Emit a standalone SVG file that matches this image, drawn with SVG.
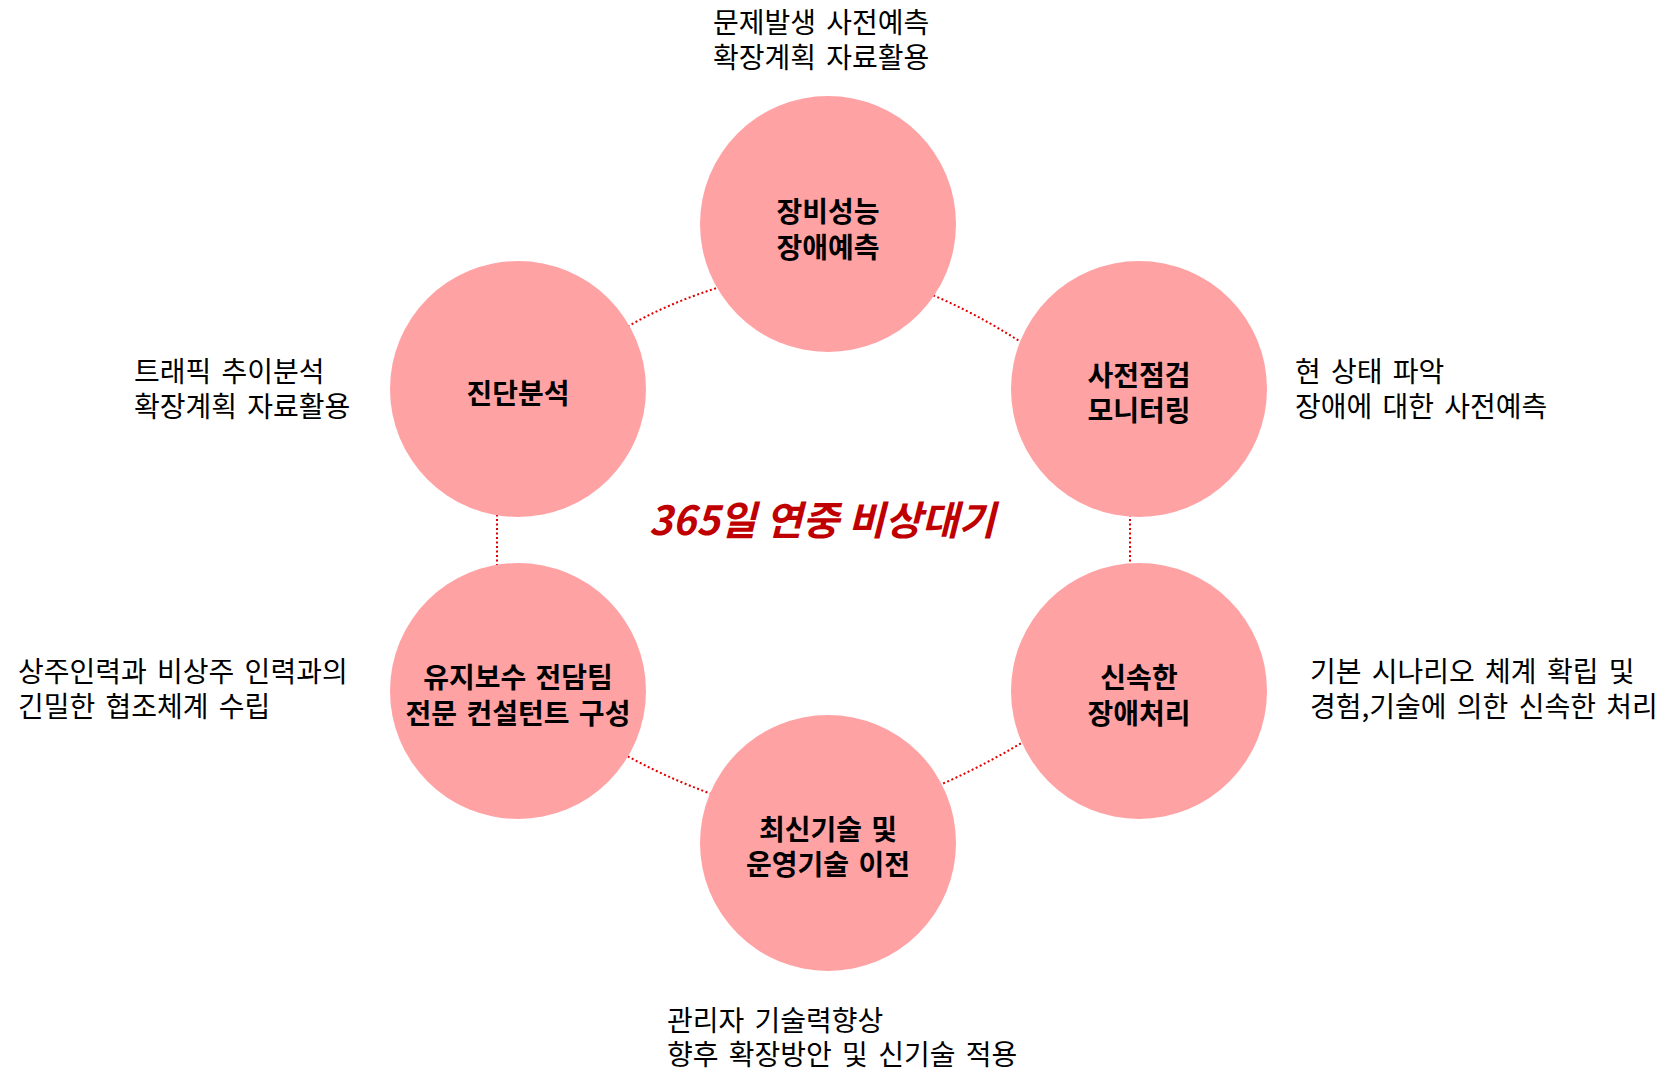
<svg xmlns="http://www.w3.org/2000/svg" width="1668" height="1071" viewBox="0 0 1668 1071">
<style>
  .bg { fill: #ffffff; }
  .node { fill: #FFA2A4; }
  .conn { fill: none; stroke: #E00000; stroke-width: 2; stroke-dasharray: 2 2.5; }
  .lbl { font-family: "Noto Sans CJK KR", "Noto Sans", sans-serif; font-weight: bold; font-size: 28px; fill: #000000; text-anchor: middle; word-spacing: 3px; }
  .desc { font-family: "Noto Sans CJK KR", "Noto Sans", sans-serif; font-size: 28px; fill: #000000; word-spacing: 4px; }
  .title { font-family: "Noto Sans CJK KR", "Noto Sans", sans-serif; font-weight: bold; font-style: italic; font-size: 40px; fill: #C00000; text-anchor: middle; }
</style>
<rect class="bg" x="0" y="0" width="1668" height="1071"/>
<g id="connectors">
  <path class="conn" d="M620,331 Q668,302 730,284"/>
  <path class="conn" d="M925,292 Q975,312 1027,346"/>
  <path class="conn" d="M497,510 L497,570"/>
  <path class="conn" d="M1130,510 L1130,570"/>
  <path class="conn" d="M620,752 Q664,777 717,796"/>
  <path class="conn" d="M935,787 Q980,768 1030,738"/>
</g>
<g id="node-top">
  <circle class="node" cx="828" cy="224" r="128"/>
  <text class="lbl" x="828" y="222">장비성능</text>
  <text class="lbl" x="828" y="258">장애예측</text>
</g>
<g id="node-upper-right">
  <circle class="node" cx="1139" cy="389" r="128"/>
  <text class="lbl" x="1139" y="386">사전점검</text>
  <text class="lbl" x="1139" y="421">모니터링</text>
</g>
<g id="node-lower-right">
  <circle class="node" cx="1139" cy="691" r="128"/>
  <text class="lbl" x="1139" y="688">신속한</text>
  <text class="lbl" x="1139" y="724">장애처리</text>
</g>
<g id="node-bottom">
  <circle class="node" cx="828" cy="843" r="128"/>
  <text class="lbl" x="828" y="840">최신기술 및</text>
  <text class="lbl" x="828" y="875">운영기술 이전</text>
</g>
<g id="node-lower-left">
  <circle class="node" cx="518" cy="691" r="128"/>
  <text class="lbl" x="518" y="688">유지보수 전담팀</text>
  <text class="lbl" x="518" y="724">전문 컨설턴트 구성</text>
</g>
<g id="node-upper-left">
  <circle class="node" cx="518" cy="389" r="128"/>
  <text class="lbl" x="518" y="404">진단분석</text>
</g>
<g id="title">
  <text class="title" x="822" y="535">365일 연중 비상대기</text>
</g>
<g id="descriptions">
  <text class="desc" x="713" y="33">문제발생 사전예측</text>
  <text class="desc" x="713" y="68">확장계획 자료활용</text>
  <text class="desc" x="134" y="382">트래픽 추이분석</text>
  <text class="desc" x="134" y="417">확장계획 자료활용</text>
  <text class="desc" x="1295" y="382">현 상태 파악</text>
  <text class="desc" x="1295" y="417">장애에 대한 사전예측</text>
  <text class="desc" x="18" y="682">상주인력과 비상주 인력과의</text>
  <text class="desc" x="18" y="717">긴밀한 협조체계 수립</text>
  <text class="desc" x="1310" y="682">기본 시나리오 체계 확립 및</text>
  <text class="desc" x="1310" y="717">경험,기술에 의한 신속한 처리</text>
  <text class="desc" x="667" y="1031">관리자 기술력향상</text>
  <text class="desc" x="667" y="1065">향후 확장방안 및 신기술 적용</text>
</g>
</svg>
